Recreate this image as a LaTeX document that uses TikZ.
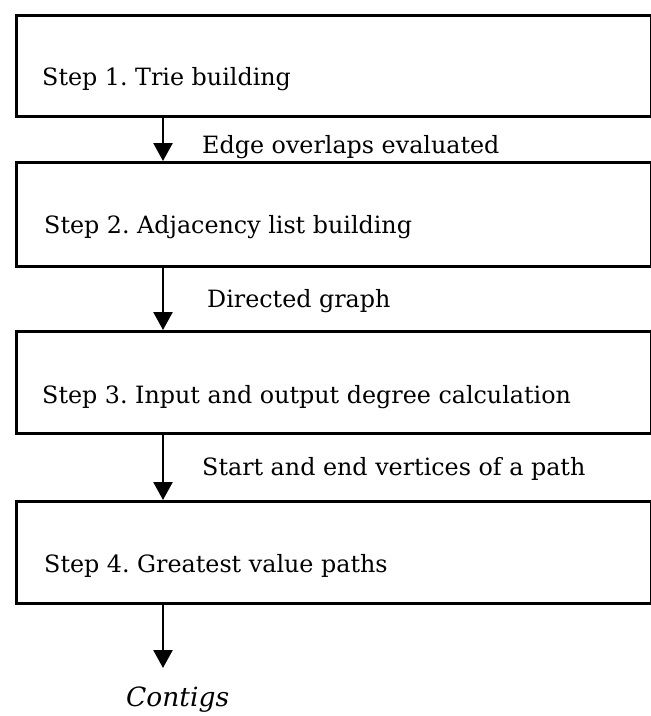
\documentclass[tikz,border=0pt]{standalone}
\usepackage{fontspec}
\setmainfont{DejaVu Serif}
\usetikzlibrary{arrows.meta}
\frenchspacing
\begin{document}
\begin{tikzpicture}[x=1pt,y=-1pt,
  stepbox/.style={draw=black,line width=3.2pt,rectangle,inner sep=0pt,anchor=north west},
  steptext/.style={anchor=base west,inner sep=0pt,font=\fontsize{23.8}{28}\selectfont},
  flowlabel/.style={anchor=base west,inner sep=0pt,font=\fontsize{23.8}{28}\selectfont},
  flowarrow/.style={line width=2.6pt,-{Triangle[width=19pt,length=18pt]}}]
\useasboundingbox (0,0) rectangle (651,716);
\fill[white] (0,0) rectangle (651,716);
% boxes
\node[stepbox,minimum width=634.5pt,minimum height=101pt] (b1) at (15,14) {};
\node[stepbox,minimum width=634.5pt,minimum height=104pt] (b2) at (15,161) {};
\node[stepbox,minimum width=634.5pt,minimum height=102pt] (b3) at (15,330) {};
\node[stepbox,minimum width=634.5pt,minimum height=102pt] (b4) at (15,500) {};
% texts in boxes
\node[steptext] (t1) at (42,85) {Step 1. Trie building};
\node[steptext] (t2) at (44,233) {Step 2. Adjacency list building};
\node[steptext] (t3) at (42,403) {Step 3. Input and output degree calculation};
\node[steptext] (t4) at (44,572) {Step 4. Greatest value paths};
% labels
\node[flowlabel] (l1) at (202,153) {Edge overlaps evaluated};
\node[flowlabel] (l2) at (207,307) {Directed graph};
\node[flowlabel] (l3) at (202,475) {Start and end vertices of a path};
\node[flowlabel,font=\fontsize{26.5}{30}\selectfont\itshape] (out) at (126,706) {Contigs};
% arrows
\coordinate (ax) at (163,0);
\coordinate (tipend) at (163,668);
\draw[flowarrow] (b1.south -| ax) -- (b2.north -| ax);
\draw[flowarrow] (b2.south -| ax) -- (b3.north -| ax);
\draw[flowarrow] (b3.south -| ax) -- (b4.north -| ax);
\draw[flowarrow] (b4.south -| ax) -- (tipend);
\end{tikzpicture}
\end{document}
